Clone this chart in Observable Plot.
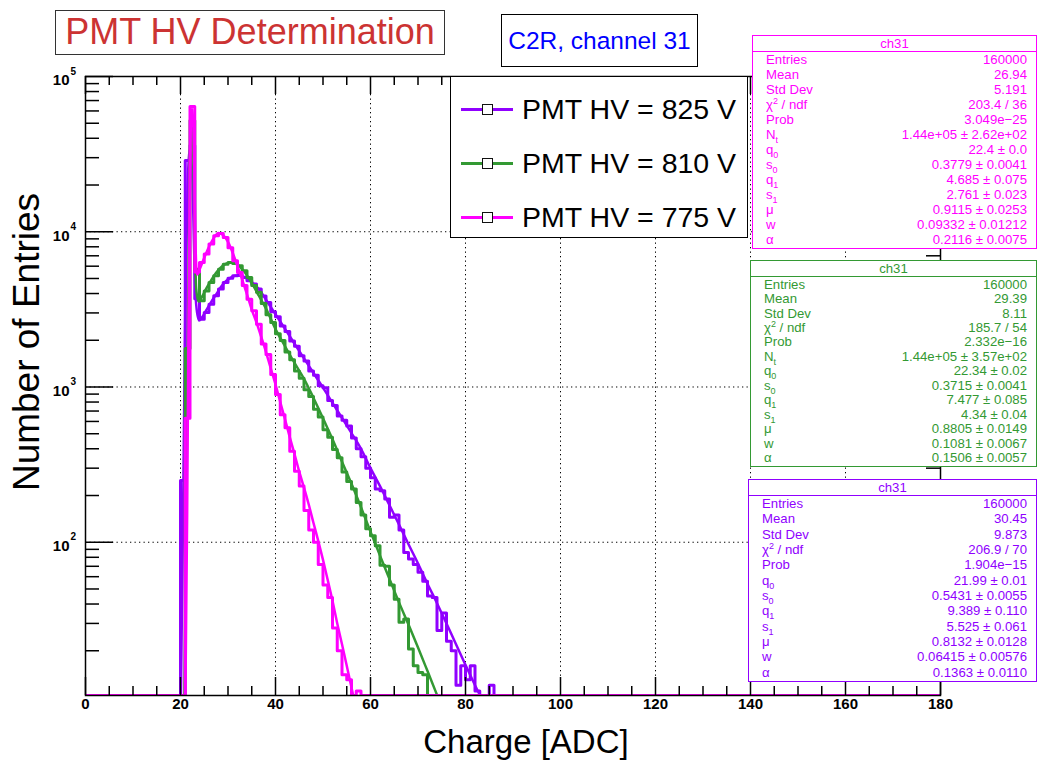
<!DOCTYPE html>
<html><head><meta charset="utf-8">
<script src="https://cdn.jsdelivr.net/npm/d3@7"></script>
<script src="https://cdn.jsdelivr.net/npm/@observablehq/plot@0.6"></script>
<style>
body{margin:0;background:#fff;font-family:"Liberation Sans",Arial,Helvetica,sans-serif;}
#wrap{position:relative;width:1040px;height:760px;overflow:hidden;background:#fff}
#wrap svg{position:absolute;left:0;top:0}
.abs{position:absolute;box-sizing:border-box;background:#fff}
.stats{position:absolute;box-sizing:border-box;background:#fff;border:1.5px solid;font-size:13.2px;line-height:1}
.stats .ttl{text-align:center;border-bottom:1.5px solid;height:15px;line-height:15px}
.stats .rows{display:grid}
.stats .row{display:flex;justify-content:space-between;align-items:center;padding:0 9px 0 13px;white-space:nowrap}
.stats sub{font-size:9px;line-height:0;position:relative;top:4px;vertical-align:baseline}
.stats sup{font-size:9px;line-height:0;position:relative;top:-5px;vertical-align:baseline}
.leg{position:absolute;left:450px;top:76px;width:298px;height:162px;border:1.5px solid #000;background:#fff;box-sizing:border-box}
.entry{position:absolute;left:0;height:30px;width:100%}
.entry .ln{position:absolute;left:10px;width:52px;top:14px;height:3px}
.entry .mk{position:absolute;left:31px;top:9.5px;width:11px;height:11px;border:1.5px solid #111;box-sizing:border-box}
.entry .tx{position:absolute;left:71px;top:0;font-size:28.5px;line-height:30px;color:#000;white-space:nowrap}
</style></head><body><div id="wrap"></div>
<script>
// ---------------- data ----------------
const firstBin = 20;            // low edge of the first listed bin (bin width = 1 ADC)
const nBins = 180;
const hv = ["825", "810", "775"];
const colors = ["#9000ff", "#339933", "#ff00ff"];
// counts per 1-ADC bin starting at bin 20 (all other bins are empty)
const counts825 = [250, 28800, 35900, 3700, 2730, 3020, 3410, 3870, 4270, 4710,
  5020, 5200, 5250, 5070, 4830, 4600, 4270, 3850, 3500, 3050,
  2830, 2470, 2280, 1980, 1830, 1590, 1470, 1270, 1190, 1020,
  990, 820, 760, 650, 610, 560, 470, 400, 355, 300,
  260, 220, 215, 190, 145, 150, 120, 86, 78, 72,
  64, 56, 45, 44, 27, 35, 23, 20, 12, 16,
  13, 16, 11, 0, 0, 12];
const counts810 = [0, 1770, 52000, 5740, 3590, 4160, 4710, 5200, 5740, 6180,
  6340, 6250, 6030, 5600, 5070, 4500, 4070, 3450, 2920, 2600,
  2200, 1990, 1680, 1500, 1270, 1140, 960, 870, 720, 640,
  530, 475, 395, 350, 283, 246, 220, 180, 150, 122,
  110, 95, 71, 70, 53, 43, 30.5, 32, 20.5, 16,
  14.5, 14];
const counts775 = [0, 630, 64000, 5500, 6340, 7180, 8330, 9420, 9750, 9190,
  7900, 6500, 5470, 4500, 3680, 3100, 2540, 1890, 1620, 1205,
  895, 663, 547, 386, 287, 230, 160, 120, 100, 72,
  53, 44, 28, 20, 14, 13, 0, 11];
// fitted curves, sampled [charge, value]
const fit825 = [[20.0, 6], [20.5, 120], [21.0, 3000], [21.5, 20000], [22.0, 34000], [22.5, 22000], [22.9, 7000], [23.3, 3400], [23.9, 2680], [24.5, 2800], [25.5, 3150], [26.5, 3550], [27.5, 3950], [28.5, 4400], [29.5, 4780], [30.5, 5050], [31.5, 5200], [32.5, 5230], [33.5, 5100], [34.5, 4850], [35.5, 4600], [36.5, 4270], [38, 3650], [40, 2940], [42, 2370], [44, 1900], [46, 1530], [48, 1230], [50, 990], [52, 790], [54, 632], [56, 505], [58, 400], [60, 300], [62, 230], [64, 173], [66, 130], [68, 97], [70, 73], [72, 54], [74, 40.5], [76, 30], [78, 22], [80, 16.2], [82, 12], [84, 9], [86, 6.5]];
const fit810 = [[20.8, 8], [21.3, 300], [21.7, 6000], [22.0, 30000], [22.35, 50000], [22.7, 30000], [23.0, 9000], [23.3, 4300], [23.8, 3550], [24.5, 3800], [25.5, 4350], [26.5, 4900], [27.5, 5450], [28.5, 5900], [29.5, 6200], [30.5, 6330], [31.5, 6250], [32.5, 5950], [33.5, 5500], [34.5, 4950], [35.5, 4400], [36.5, 3870], [38, 3200], [40, 2360], [42, 1830], [44, 1430], [46, 1130], [48, 850], [50, 630], [52, 460], [54, 330], [56, 238], [58, 168], [60, 117], [62, 82], [64, 58], [66, 41], [68, 29.5], [70, 21], [72, 14.8], [74, 10.4], [76, 7.3]];
const fit775 = [[21.0, 8], [21.4, 150], [21.7, 3000], [22.0, 25000], [22.25, 55000], [22.45, 62000], [22.7, 48000], [22.95, 20000], [23.2, 7500], [23.5, 5300], [24.0, 5700], [25, 6800], [26, 8000], [27, 9100], [28, 9800], [29, 9500], [30, 8600], [31, 7300], [32, 6000], [33, 4900], [34, 3950], [35, 3150], [36, 2600], [37, 2100], [38, 1680], [39, 1320], [40, 1040], [41, 800], [42, 620], [43, 475], [44, 370], [45, 285], [46, 225], [47, 175], [48, 133], [49, 102], [50, 77], [51, 57], [52, 42], [53, 30], [54, 22], [55, 16], [56, 11.6], [57, 8.3]];
const xTicks = [0, 20, 40, 60, 80, 100, 120, 140, 160, 180];
const yDecades = [100, 1000, 10000, 100000];
const yMin = 10.3, yMax = 100000;
// stats boxes
const statLabels = ["Entries", "Mean", "Std Dev", "χ<sup>2</sup> / ndf", "Prob", "N<sub>t</sub>", "q<sub>0</sub>", "s<sub>0</sub>", "q<sub>1</sub>", "s<sub>1</sub>", "μ", "w", "α"];
const stats775 = ["160000", "26.94", "5.191", "203.4 / 36", "3.049e−25", "1.44e+05 ± 2.62e+02", "22.4 ± 0.0", "0.3779 ± 0.0041", "4.685 ± 0.075", "2.761 ± 0.023", "0.9115 ± 0.0253", "0.09332 ± 0.01212", "0.2116 ± 0.0075"];
const stats810 = ["160000", "29.39", "8.11", "185.7 / 54", "2.332e−16", "1.44e+05 ± 3.57e+02", "22.34 ± 0.02", "0.3715 ± 0.0041", "7.477 ± 0.085", "4.34 ± 0.04", "0.8805 ± 0.0149", "0.1081 ± 0.0067", "0.1506 ± 0.0057"];
const stats825 = ["160000", "30.45", "9.873", "206.9 / 70", "1.904e−15", null, "21.99 ± 0.01", "0.5431 ± 0.0055", "9.389 ± 0.110", "5.525 ± 0.061", "0.8132 ± 0.0128", "0.06415 ± 0.00576", "0.1363 ± 0.0110"];

// ---------------- build ----------------
function steps(counts) {
  const pts = [];
  for (let k = 0; k < nBins; k++) {
    const i = k - firstBin;
    const c = (i >= 0 && i < counts.length) ? counts[i] : 0;
    pts.push({x: k, y: Math.max(c, yMin)});
  }
  pts.push({x: nBins, y: pts[pts.length - 1].y});
  return pts;
}
const W = 1040, H = 760, mL = 85, mR = 100, mT = 76, mB = 65;
const fW = W - mL - mR, fH = H - mT - mB;
const xMinor = d3.range(0, 181, 5).filter(d => d % 20 !== 0);
const yMinor = [];
for (let d = 1; d <= 4; d++) for (let k = 2; k <= 9; k++) { const v = k * 10 ** d; if (v >= yMin && v <= yMax) yMinor.push(v); }
const grid = {stroke: "#000", strokeWidth: 1, strokeDasharray: "1.3,3.2"};
const hists = [counts825, counts810, counts775];
const fits = [fit825, fit810, fit775];
const dataMarks = [];
for (let s = 0; s < 3; s++) {
  dataMarks.push(Plot.line(steps(hists[s]), {x: "x", y: "y", curve: "step-after", stroke: colors[s], strokeWidth: 3, clip: true}));
  dataMarks.push(Plot.line(fits[s], {x: d => d[0], y: d => d[1], curve: "monotone-x", stroke: colors[s], strokeWidth: 2.5, clip: true}));
}
const chart = Plot.plot({
  width: W, height: H, marginLeft: mL, marginRight: mR, marginTop: mT, marginBottom: mB,
  x: {domain: [0, 180], axis: null},
  y: {type: "log", domain: [yMin, yMax], axis: null},
  style: {background: "transparent", fontFamily: "'Liberation Sans', Arial, sans-serif", color: "#000"},
  marks: [
    Plot.ruleX(xTicks.filter(d => d > 0 && d < 180), grid),
    Plot.ruleY(yDecades.filter(d => d < yMax), grid),
    ...dataMarks,
    Plot.tickX(xTicks, {x: d => d, insetTop: fH - 18, strokeWidth: 1.5}),
    Plot.tickX(xMinor, {x: d => d, insetTop: fH - 9, strokeWidth: 1.5}),
    Plot.tickX(xTicks, {x: d => d, insetBottom: fH - 18, strokeWidth: 1.5}),
    Plot.tickX(xMinor, {x: d => d, insetBottom: fH - 9, strokeWidth: 1.5}),
    Plot.tickY(yDecades, {y: d => d, insetRight: fW - 28, strokeWidth: 1.5}),
    Plot.tickY(yMinor, {y: d => d, insetRight: fW - 14, strokeWidth: 1.5}),
    Plot.tickY(yDecades, {y: d => d, insetLeft: fW - 28, strokeWidth: 1.5}),
    Plot.tickY(yMinor, {y: d => d, insetLeft: fW - 14, strokeWidth: 1.5}),
    Plot.frame({stroke: "#000", strokeWidth: 1.5}),
    Plot.text(xTicks, {x: d => d, frameAnchor: "bottom", dy: 13, text: d => String(d), fontWeight: "bold", fontSize: 15}),
    Plot.text(yDecades, {y: d => d, frameAnchor: "left", dx: -16, dy: 4, textAnchor: "end", text: () => "10", fontWeight: "bold", fontSize: 15}),
    Plot.text(yDecades, {y: d => d, frameAnchor: "left", dx: -15, dy: -5, textAnchor: "start", text: d => String(Math.round(Math.log10(d))), fontWeight: "bold", fontSize: 10})
  ]
});
const wrap = document.getElementById("wrap");
wrap.appendChild(chart);

function add(html) { wrap.insertAdjacentHTML("beforeend", html); }
// titles
add(`<div class="abs" style="left:55px;top:10px;width:390px;height:45px;border:1.5px solid #333;color:#cc3333;font-size:36px;line-height:42px;text-align:center">PMT HV Determination</div>`);
add(`<div class="abs" style="left:501px;top:14px;width:197px;height:53px;border:1.5px solid #000;color:#0000ff;font-size:24.5px;line-height:52px;text-align:center">C2R, channel 31</div>`);
add(`<div style="position:absolute;left:526px;top:742px;transform:translate(-50%,-50%);font-size:33px;white-space:nowrap">Charge [ADC]</div>`);
add(`<div style="position:absolute;left:27px;top:342px;transform:translate(-50%,-50%) rotate(-90deg);font-size:37px;white-space:nowrap">Number of Entries</div>`);
// legend
let leg = `<div class="leg">`;
const legTops = [17, 71, 125];
for (let s = 0; s < 3; s++) {
  leg += `<div class="entry" style="top:${legTops[s]}px"><div class="ln" style="background:${colors[s]}"></div><div class="mk" style="background:#fff"></div><div class="tx">PMT HV = ${hv[s]} V</div></div>`;
}
leg += `</div>`;
add(leg);
// stats boxes
function statsBox(vals, color, left, top, height) {
  const rowsArr = statLabels.map((l, i) => vals[i] == null ? null : `<div class="row"><span>${l}</span><span>${vals[i]}</span></div>`).filter(r => r);
  return `<div class="stats" style="left:${left}px;top:${top}px;width:${1037 - left}px;height:${height}px;color:${color};border-color:${color}">
    <div class="ttl" style="border-color:${color}">ch31</div>
    <div class="rows" style="height:${height - 19}px;grid-template-rows:repeat(${rowsArr.length},1fr)">${rowsArr.join("")}</div></div>`;
}
add(statsBox(stats775, colors[2], 752, 35, 214));
add(statsBox(stats810, colors[1], 750, 260, 207));
add(statsBox(stats825, colors[0], 748, 479, 203));
</script></body></html>
